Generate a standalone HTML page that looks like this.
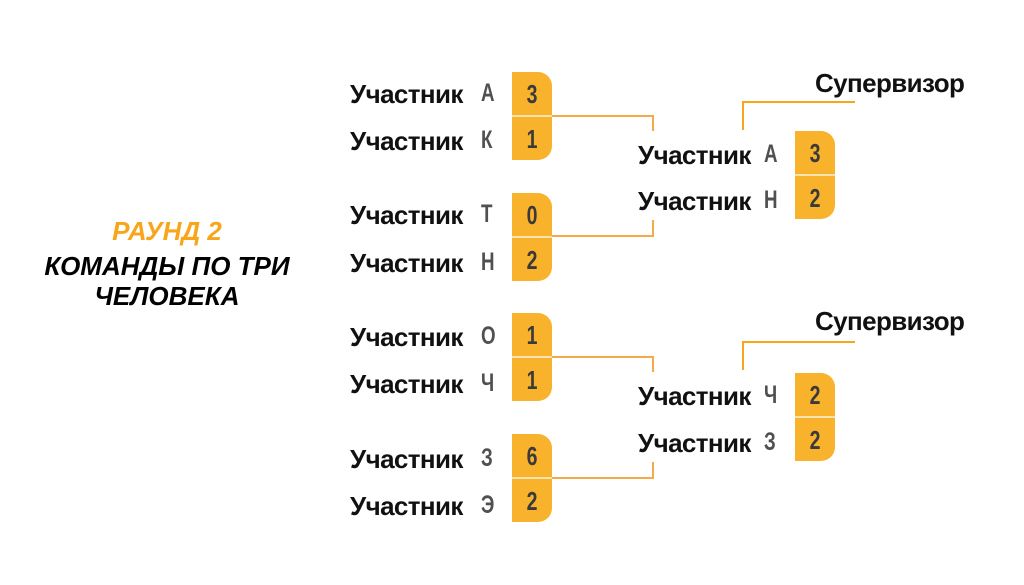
<!DOCTYPE html>
<html><head><meta charset="utf-8"><style>
body{margin:0;width:1024px;height:585px;background:#fff;position:relative;overflow:hidden;font-family:"Liberation Sans","DejaVu Sans",sans-serif}
.t{position:absolute;font-weight:bold;font-size:26px;color:#111;line-height:1;letter-spacing:-0.6px}
.l{position:absolute;font-size:25px;font-weight:bold;color:#505050;line-height:1;font-family:"Liberation Sans",sans-serif;transform:scaleX(0.75);transform-origin:left}
.b{position:absolute;width:40px;height:88px;background:#F9B22B;border-radius:0 14px 14px 0}
.b:after{content:"";position:absolute;left:0;right:0;top:43px;height:2px;background:#fbe3b0}
.n{position:absolute;left:0;width:40px;text-align:center;font-size:26px;font-weight:bold;color:#3a3a3a;font-family:"Liberation Sans",sans-serif;line-height:1;transform:scaleX(0.75)}
.c{position:absolute;text-align:center;font-weight:bold;font-style:italic;font-size:26px;width:334px;left:0;line-height:1}
</style></head><body>
<div class="c" style="top:218px;color:#F9A51A">РАУНД 2</div>
<div class="c" style="top:253px">КОМАНДЫ ПО ТРИ</div>
<div class="c" style="top:283px">ЧЕЛОВЕКА</div>

<svg width="1024" height="585" style="position:absolute;left:0;top:0">
<g stroke="#F6A949" stroke-width="2" fill="none">
<polyline points="552,116 653,116 653,131"/>
<polyline points="552,236 653,236 653,220"/>
<polyline points="552,357 653,357 653,372"/>
<polyline points="552,478 653,478 653,462"/>
<polyline points="743,130 743,102 855,102" stroke="#F9A51A"/>
<polyline points="743,370 743,342 855,342" stroke="#F9A51A"/>
</g></svg>

<div class="t" style="left:815px;top:70px">Супервизор</div>
<div class="t" style="left:815px;top:308px">Супервизор</div>

<div class="t" style="left:350px;top:81px">Участник</div><div class="l" style="left:481px;top:81px">А</div>
<div class="t" style="left:350px;top:128px">Участник</div><div class="l" style="left:481px;top:128px">К</div>
<div class="b" style="left:512px;top:72px"><div class="n" style="top:9px">3</div><div class="n" style="top:54px">1</div></div>

<div class="t" style="left:350px;top:202px">Участник</div><div class="l" style="left:481px;top:202px">Т</div>
<div class="t" style="left:350px;top:250px">Участник</div><div class="l" style="left:481px;top:250px">Н</div>
<div class="b" style="left:512px;top:193px"><div class="n" style="top:9px">0</div><div class="n" style="top:54px">2</div></div>

<div class="t" style="left:350px;top:324px">Участник</div><div class="l" style="left:481px;top:324px">О</div>
<div class="t" style="left:350px;top:371px">Участник</div><div class="l" style="left:481px;top:371px">Ч</div>
<div class="b" style="left:512px;top:313px"><div class="n" style="top:9px">1</div><div class="n" style="top:54px">1</div></div>

<div class="t" style="left:350px;top:446px">Участник</div><div class="l" style="left:481px;top:446px">З</div>
<div class="t" style="left:350px;top:493px">Участник</div><div class="l" style="left:481px;top:493px">Э</div>
<div class="b" style="left:512px;top:434px"><div class="n" style="top:9px">6</div><div class="n" style="top:54px">2</div></div>

<div class="t" style="left:638px;top:142px">Участник</div><div class="l" style="left:764px;top:142px">А</div>
<div class="t" style="left:638px;top:188px">Участник</div><div class="l" style="left:764px;top:188px">Н</div>
<div class="b" style="left:795px;top:131px"><div class="n" style="top:9px">3</div><div class="n" style="top:54px">2</div></div>

<div class="t" style="left:638px;top:383px">Участник</div><div class="l" style="left:764px;top:383px">Ч</div>
<div class="t" style="left:638px;top:430px">Участник</div><div class="l" style="left:764px;top:430px">З</div>
<div class="b" style="left:795px;top:373px"><div class="n" style="top:9px">2</div><div class="n" style="top:54px">2</div></div>
</body></html>
